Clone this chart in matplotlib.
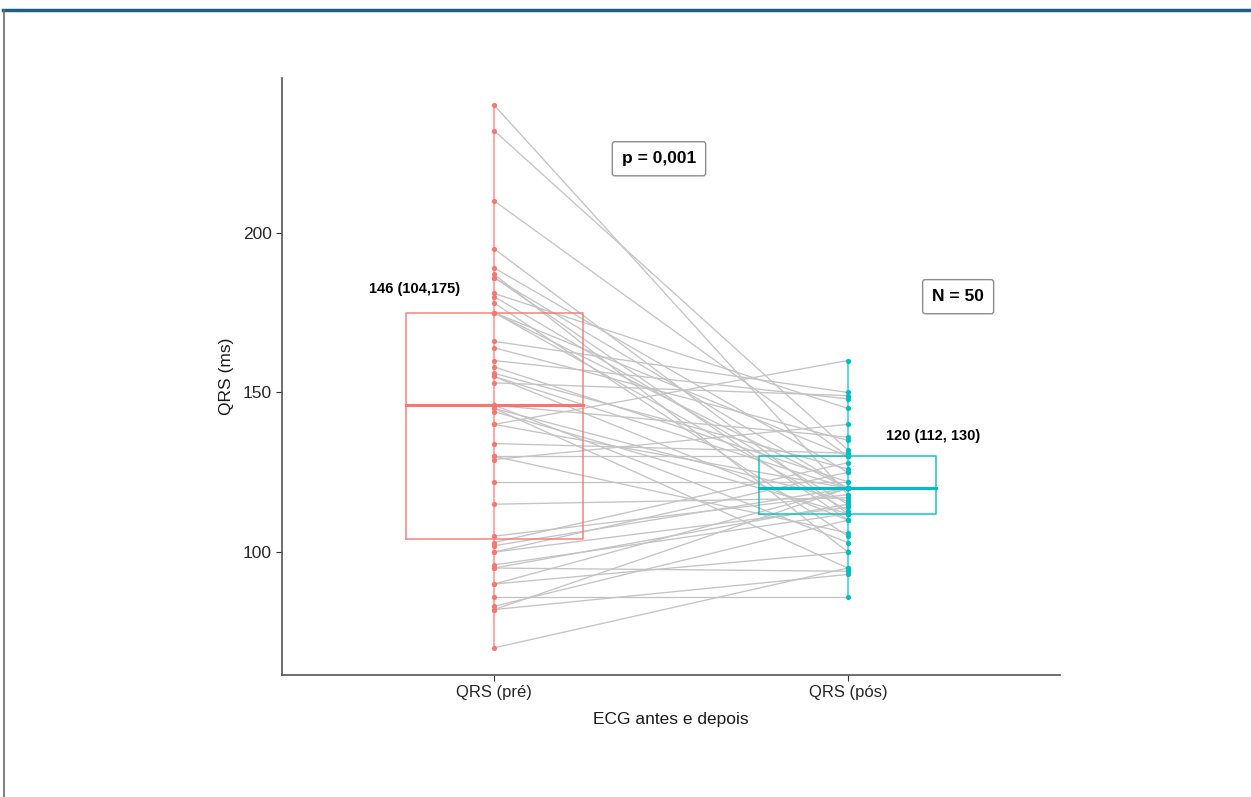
import matplotlib
matplotlib.use("Agg")
import matplotlib.pyplot as plt
from matplotlib.lines import Line2D
import numpy as np

plt.rcParams['font.family'] = ['Liberation Sans', 'DejaVu Sans']

# ---- data ----
groups = ["QRS (pré)", "QRS (pós)"]
qrs_pre = [240, 232, 210, 195, 189, 187, 186, 186, 181, 180,
           178, 175, 175, 175, 166, 164, 160, 158, 156, 155,
           155, 153, 146, 146, 145, 145, 144, 140, 140, 134,
           130, 130, 129, 122, 115, 105, 103, 102, 100, 100,
           96, 95, 95, 90, 90, 86, 83, 82, 82, 70]
qrs_pos = [118, 132, 130, 112, 125, 100, 120, 110, 145, 115,
           105, 130, 120, 113, 150, 135, 148, 122, 126, 110,
           120, 149, 136, 103, 116, 95, 112, 160, 120, 131,
           130, 106, 140, 122, 117, 118, 128, 120, 125, 114,
           112, 115, 94, 120, 100, 86, 110, 120, 93, 95]
box_q1 = [104, 112]
box_median = [146, 120]
box_q3 = [175, 130]
box_labels = ["146 (104,175)", "120 (112, 130)"]
p_label = "p = 0,001"
n_label = "N = 50"
colors = ["#F8766D", "#00BFC4"]

fig = plt.figure(figsize=(12.51, 7.97), dpi=100)
ax = fig.add_axes([282/1251, 1-675/797, (1060-282)/1251, (675-78)/797])

xpos = [1, 2]
series = [qrs_pre, qrs_pos]

# paired lines
for a, b in zip(qrs_pre, qrs_pos):
    ax.plot(xpos, [a, b], color="#C4C4C4", lw=0.95, zorder=2)

# boxes + whisker range
for i, (x, vals) in enumerate(zip(xpos, series)):
    c = colors[i]
    ax.plot([x, x], [min(vals), max(vals)], color=c, lw=1.5, alpha=0.6, zorder=1)
    w = 0.25
    ax.plot([x - w, x + w, x + w, x - w, x - w],
            [box_q1[i], box_q1[i], box_q3[i], box_q3[i], box_q1[i]],
            color=c, lw=1.2, alpha=0.85, zorder=3)
    ax.plot([x - w, x + w], [box_median[i], box_median[i]], color=c, lw=2.2, zorder=3)
    ax.scatter([x] * len(vals), vals, s=14, color=c, zorder=4, linewidths=0)

# annotations
ax.text(0.776, 182.4, box_labels[0], ha="center", va="center", fontsize=10.5, fontweight="bold")
ax.text(2.241, 136.4, box_labels[1], ha="center", va="center", fontsize=10.5, fontweight="bold")
bb = dict(boxstyle="round,pad=0.55,rounding_size=0.15", fc="white", ec="#8c8c8c", lw=1.0)
ax.text(1.466, 223.2, p_label, ha="center", va="center", fontsize=12.5, fontweight="bold", bbox=bb)
ax.text(2.312, 180.0, n_label, ha="center", va="center", fontsize=12.5, fontweight="bold", bbox=bb)

# axes styling
ax.set_xlim(0.4, 2.6)
ax.set_ylim(61.5, 248.5)
ax.set_xticks(xpos)
ax.set_xticklabels(groups, fontsize=12, color="#262626")
ax.set_yticks([100, 150, 200])
ax.tick_params(axis="y", labelsize=12.5, labelcolor="#262626", length=4, color="#333333")
ax.tick_params(axis="x", length=4, color="#333333")
for s in ["top", "right"]:
    ax.spines[s].set_visible(False)
for s in ["left", "bottom"]:
    ax.spines[s].set_color("#555555")
    ax.spines[s].set_linewidth(1.2)
ax.set_ylabel("QRS (ms)", fontsize=12.5, color="#1a1a1a", labelpad=6)
ax.set_xlabel("ECG antes e depois", fontsize=12.5, color="#1a1a1a", labelpad=8)

# outer frame
fig.add_artist(Line2D([0.002, 1.0], [1 - 10/797, 1 - 10/797], transform=fig.transFigure,
                      color="#1f5f86", lw=2.5))
fig.add_artist(Line2D([3.5/1251, 3.5/1251], [0, 1 - 10/797], transform=fig.transFigure,
                      color="#6a6a6a", lw=1.2))

fig.savefig("out.png", dpi=100)
